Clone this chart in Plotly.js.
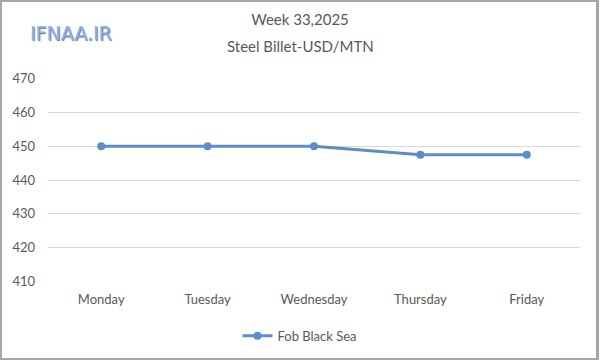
<!DOCTYPE html>
<html><head><meta charset="utf-8">
<script src="https://cdn.plot.ly/plotly-3.0.1.min.js"></script>
<style>body{margin:0;background:#fff}#c{width:600px;height:360px;position:relative}
#f{position:absolute;left:0;top:0;width:594px;height:356px;border:2px solid #a6a6a6;border-right-width:3px;pointer-events:none;box-sizing:content-box}</style>
</head><body><div id="c"></div><div id="f"></div>
<script>
const days = ["Monday","Tuesday","Wednesday","Thursday","Friday"];
const fobBlackSea = [450, 450, 450, 447.5, 447.5];
const yTicks = [410,420,430,440,450,460,470];
const titleLines = ["Week 33,2025","Steel Billet-USD/MTN"];
const seriesName = "Fob Black Sea";
const logoText = "IFNAA.IR";

const txt = '#595959';
const font = "Lato, 'Open Sans', sans-serif";
Plotly.newPlot('c', [{
  x: days, y: fobBlackSea, type: 'scatter', mode: 'lines+markers', name: seriesName,
  line: {color: '#5b8ec9', width: 3}, marker: {color: '#5b8ec9', size: 8}
}], {
  width: 600, height: 360,
  margin: {l: 48, r: 20, t: 78, b: 78},
  paper_bgcolor: '#fff', plot_bgcolor: '#fff',
  font: {family: font, color: txt, size: 13},
  title: {text: titleLines[0], x: 0.5, xanchor: 'center', xref: 'container', yref: 'container', y: 0.944, yanchor: 'middle', automargin: false, font: {family: font, size: 15, color: txt}},
  xaxis: {type: 'category', showgrid: false, zeroline: false, showline: false, ticks: '', ticklabelstandoff: 8, tickfont: {size: 13, color: txt}, range: [-0.5, 4.5], automargin: false},
  yaxis: {range: [409.8, 470.2], tickvals: yTicks, showgrid: true, gridcolor: '#d9d9d9', gridwidth: 1, zeroline: false, showline: false, ticks: '', ticklabelstandoff: 12, tickfont: {size: 13, color: txt}, automargin: false},
  showlegend: true,
  legend: {orientation: 'h', x: 0.5, xanchor: 'center', xref: 'container', yref: 'container', y: 0.067, yanchor: 'middle', font: {size: 13, color: txt}},
  annotations: [
    {text: titleLines[1], xref: 'paper', yref: 'paper', x: (300-48)/532, xanchor: 'center', y: 1.157, yanchor: 'middle', showarrow: false, font: {family: font, size: 15, color: txt}},
    {text: logoText, xref: 'paper', yref: 'paper', x: -0.038, xanchor: 'left', y: 1.22, yanchor: 'middle', showarrow: false,
    font: {family: "'DejaVu Sans', sans-serif", size: 19, color: '#92b4e2', shadow: '1px 1px 1px #4a72b0'}}]
}, {displayModeBar: false, staticPlot: true});
</script></body></html>
